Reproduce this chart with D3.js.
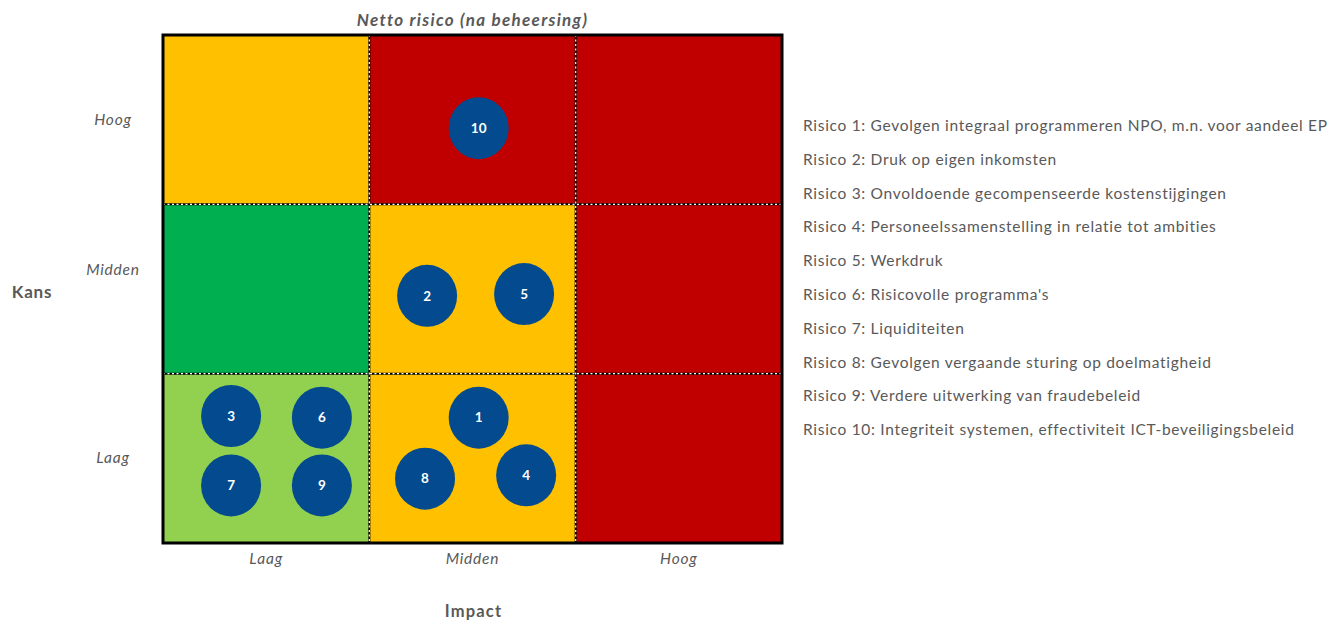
<!DOCTYPE html>
<html>
<head>
<meta charset="utf-8">
<script src="https://cdn.jsdelivr.net/npm/d3@7"></script>
<style>
  body { margin: 0; background: #fff; }
  text { font-family: Lato, "Open Sans", sans-serif; fill: #595959; }
  .tick text { font-style: italic; font-size: 15.5px; letter-spacing: 0.8px; }
</style>
</head>
<body>
<div id="matrix"></div>
<script>
// levels for both axes
var levels = ["Laag", "Midden", "Hoog"];

// cell colours, rows from Laag (bottom) to Hoog (top), columns Laag..Hoog
var cellColors = [
  ["#92D050", "#FFC000", "#C00000"],
  ["#00B050", "#FFC000", "#C00000"],
  ["#FFC000", "#C00000", "#C00000"]
];

// risk numbers and their position (impact, kans) on a 0-3 scale
var riskIds = [1, 2, 3, 4, 5, 6, 7, 8, 9, 10];
var riskImpact = [1.53, 1.28, 0.33, 1.76, 1.75, 0.77, 0.33, 1.27, 0.77, 1.53];
var riskKans = [0.74, 1.46, 0.75, 0.40, 1.47, 0.74, 0.34, 0.38, 0.34, 2.45];

var riskNames = [
  "Gevolgen integraal programmeren NPO, m.n. voor aandeel EP",
  "Druk op eigen inkomsten",
  "Onvoldoende gecompenseerde kostenstijgingen",
  "Personeelssamenstelling in relatie tot ambities",
  "Werkdruk",
  "Risicovolle programma's",
  "Liquiditeiten",
  "Gevolgen vergaande sturing op doelmatigheid",
  "Verdere uitwerking van fraudebeleid",
  "Integriteit systemen, effectiviteit ICT-beveiligingsbeleid"
];

var svgWidth = 1341;
var svgHeight = 623;

var margin = { top: 35, left: 163 };
var width = 619;
var height = 508;

var svg = d3.select("#matrix")
  .append("svg")
  .attr("width", svgWidth)
  .attr("height", svgHeight);

var chartGroup = svg.append("g")
  .attr("transform", `translate(${margin.left}, ${margin.top})`);

// continuous scales for the circles and grid lines
var x = d3.scaleLinear().domain([0, 3]).range([0, width]);
var y = d3.scaleLinear().domain([0, 3]).range([height, 0]);

// band scales for the tick labels
var xBand = d3.scaleBand().domain(levels).range([0, width]);
var yBand = d3.scaleBand().domain(levels).range([height, 0]);

// cells
var cells = [];
cellColors.forEach(function(row, r) {
  row.forEach(function(c, col) {
    cells.push({ row: r, col: col, color: c });
  });
});

chartGroup.selectAll("rect.cell")
  .data(cells)
  .enter()
  .append("rect")
  .attr("class", "cell")
  .attr("x", d => x(d.col))
  .attr("y", d => y(d.row + 1))
  .attr("width", x(1) - x(0))
  .attr("height", y(0) - y(1))
  .attr("fill", d => d.color);

// dashed dividers: black line with white dashes on top
var dividers = [1, 2];
[["#000", null, 2], ["#fff", "2,2.5", 1.2]].forEach(function(st) {
  chartGroup.selectAll(null)
    .data(dividers)
    .enter()
    .append("line")
    .attr("x1", d => x(d)).attr("x2", d => x(d))
    .attr("y1", 0).attr("y2", height)
    .attr("stroke", st[0])
    .attr("stroke-dasharray", st[1])
    .attr("stroke-width", st[2]);
  chartGroup.selectAll(null)
    .data(dividers)
    .enter()
    .append("line")
    .attr("y1", d => y(d)).attr("y2", d => y(d))
    .attr("x1", 0).attr("x2", width)
    .attr("stroke", st[0])
    .attr("stroke-dasharray", st[1])
    .attr("stroke-width", st[2]);
});

// outer border
chartGroup.append("rect")
  .attr("x", 0).attr("y", 0)
  .attr("width", width).attr("height", height)
  .attr("fill", "none")
  .attr("stroke", "#000")
  .attr("stroke-width", 3);

// risk circles
var risks = riskIds.map(function(id, i) {
  return { id: id, impact: riskImpact[i], kans: riskKans[i] };
});

var riskGroup = chartGroup.selectAll("g.risk")
  .data(risks)
  .enter()
  .append("g")
  .attr("class", "risk")
  .attr("transform", d => `translate(${x(d.impact)}, ${y(d.kans)})`);

riskGroup.append("ellipse")
  .attr("rx", 30)
  .attr("ry", 31)
  .attr("fill", "#034A8E");

riskGroup.append("text")
  .attr("text-anchor", "middle")
  .attr("dy", "0.35em")
  .style("fill", "#fff")
  .style("font-size", "13.5px")
  .style("font-weight", "bold")
  .text(d => d.id);

// axes
var bottomAxis = d3.axisBottom(xBand).tickSize(0).tickPadding(10);
var leftAxis = d3.axisLeft(yBand).tickSize(0).tickPadding(30);

chartGroup.append("g")
  .attr("transform", `translate(0, ${height})`)
  .call(bottomAxis)
  .call(g => g.select(".domain").remove())
  .selectAll("text").attr("fill", "#595959");

chartGroup.append("g")
  .attr("transform", "translate(-20, 0)")
  .call(leftAxis)
  .call(g => g.select(".domain").remove())
  .selectAll("text")
  .attr("fill", "#595959")
  .attr("text-anchor", "middle")
  .attr("dy", (d, i) => i === 1 ? "-0.9em" : "0.32em");

// title
chartGroup.append("text")
  .attr("x", width / 2)
  .attr("y", -9)
  .attr("text-anchor", "middle")
  .style("font-size", "17px")
  .style("letter-spacing", "1.3px")
  .style("font-weight", "bold")
  .style("font-style", "italic")
  .text("Netto risico (na beheersing)");

// axis titles
chartGroup.append("text")
  .attr("x", width / 2 + 1)
  .attr("y", height + 74)
  .attr("text-anchor", "middle")
  .style("font-size", "16.5px")
  .style("letter-spacing", "1.2px")
  .style("font-weight", "bold")
  .text("Impact");

svg.append("text")
  .attr("x", 32)
  .attr("y", 298)
  .attr("text-anchor", "middle")
  .style("font-size", "17px")
  .style("letter-spacing", "0.8px")
  .style("font-weight", "bold")
  .text("Kans");

// legend
svg.append("g")
  .attr("transform", "translate(803, 131)")
  .selectAll("text")
  .data(riskNames)
  .enter()
  .append("text")
  .attr("y", (d, i) => i * 33.8)
  .style("font-size", "15.5px")
  .style("letter-spacing", "0.7px")
  .text((d, i) => `Risico ${riskIds[i]}: ${d}`);
</script>
</body>
</html>
